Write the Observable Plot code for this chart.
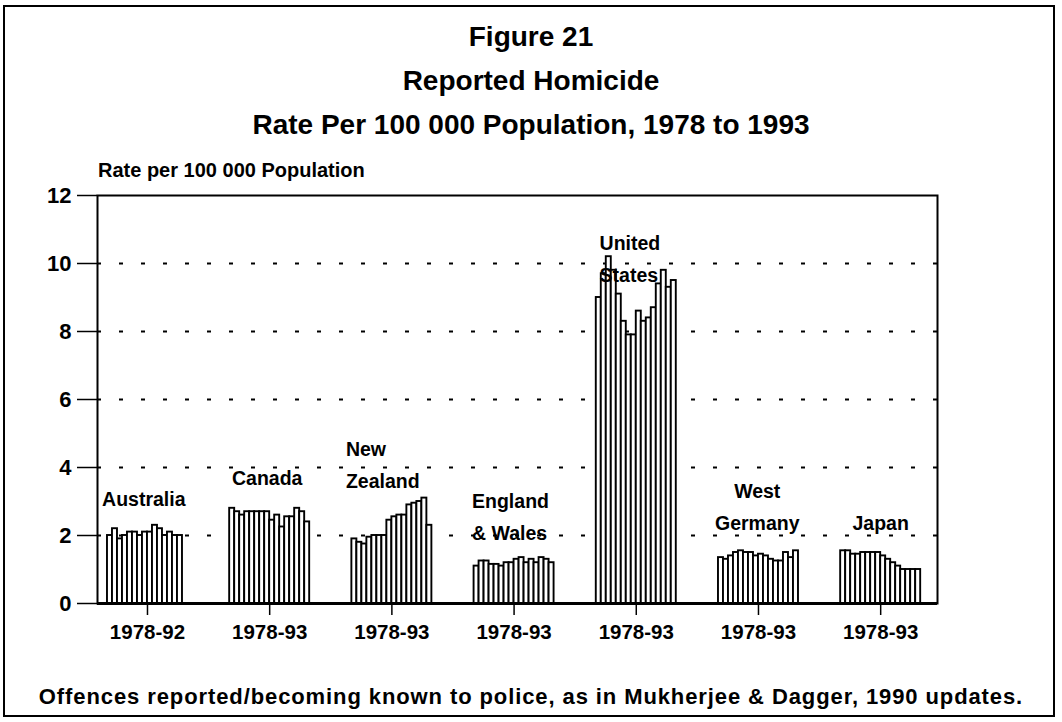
<!DOCTYPE html>
<html><head><meta charset="utf-8">
<script src="https://cdn.jsdelivr.net/npm/d3@7"></script>
<script src="https://cdn.jsdelivr.net/npm/@observablehq/plot@0.6"></script>
<style>
body{margin:0;background:#fff;font-family:"Liberation Sans",Arial,sans-serif;color:#000}
#wrap{position:relative;width:1062px;height:722px;overflow:hidden;background:#fff}
#border{position:absolute;left:3px;top:5px;width:1052px;height:712px;border:2px solid #000;box-sizing:border-box}
#title{position:absolute;top:15px;left:0;width:1062px;text-align:center;font-size:28px;line-height:44px;font-weight:bold}
#ylabel{position:absolute;left:98px;top:159px;font-size:20px;font-weight:bold}
#chart{position:absolute;left:0;top:0}
#caption{position:absolute;top:684px;left:0;width:1062px;text-align:center;font-size:22px;font-weight:bold;letter-spacing:0.9px}
</style></head>
<body><div id="wrap">
<div id="border"></div>
<div id="title">Figure 21<br>Reported Homicide<br>Rate Per 100 000 Population, 1978 to 1993</div>
<div id="chart"></div>
<div id="ylabel">Rate per 100 000 Population</div>
<div id="caption">Offences reported/becoming known to police, as in Mukherjee &amp; Dagger, 1990 updates.</div>
</div>
<script>
const countries = ["Australia","Canada","New Zealand","England & Wales","United States","West Germany","Japan"];
const periods = ["1978-92","1978-93","1978-93","1978-93","1978-93","1978-93","1978-93"];
const australia = [2.0,2.2,1.9,2.0,2.1,2.1,2.0,2.1,2.1,2.3,2.2,2.0,2.1,2.0,2.0];
const canada = [2.8,2.7,2.6,2.7,2.7,2.7,2.7,2.7,2.45,2.6,2.25,2.55,2.55,2.8,2.7,2.4];
const newZealand = [1.9,1.8,1.75,1.95,2.0,2.0,2.0,2.45,2.55,2.6,2.6,2.9,2.95,3.0,3.1,2.3];
const englandWales = [1.1,1.25,1.25,1.15,1.15,1.1,1.2,1.2,1.3,1.35,1.2,1.3,1.2,1.35,1.3,1.2];
const unitedStates = [9.0,9.7,10.2,9.8,9.1,8.3,7.9,7.9,8.6,8.3,8.4,8.7,9.4,9.8,9.3,9.5];
const westGermany = [1.35,1.3,1.4,1.5,1.55,1.5,1.5,1.4,1.45,1.4,1.3,1.25,1.25,1.5,1.35,1.55];
const japan = [1.55,1.55,1.45,1.45,1.5,1.5,1.5,1.5,1.4,1.3,1.2,1.1,1.0,1.0,1.0,1.0];
const startYear = 1978;

// country labels inside the plot
const labelText = ["Australia","Canada","New\nZealand","England\n& Wales","United\nStates","West\nGermany","Japan"];
const labelGroupOffset = [-0.03, -0.02, -0.376, -0.344, -0.30, -0.01, 0.0];
const labelValue = [3.17, 3.8, 4.18, 2.63, 10.23, 2.93, 2.45];
const labelAnchor = ["middle","middle","start","start","start","middle","middle"];

const series = [australia, canada, newZealand, englandWales, unitedStates, westGermany, japan];
const slot = 5 / 122.2; // width of one year slot, in group units
const data = [];
series.forEach((vals, g) => vals.forEach((v, j) => {
  const c = g + (j - 7.5) * slot;
  data.push({country: countries[g], year: startYear + j, value: v, x1: c - slot / 2, x2: c + slot / 2});
}));
const labels = labelText.map((t, i) => ({text: t, x: i + labelGroupOffset[i], y: labelValue[i], anchor: labelAnchor[i]}));

const chart = Plot.plot({
  width: 1062, height: 660,
  marginLeft: 97, marginRight: 125, marginTop: 195, marginBottom: 57,
  x: {type: "linear", domain: [-0.409, 6.465]},
  y: {domain: [0, 12]},
  style: {fontFamily: "'Liberation Sans', Arial, sans-serif", background: "transparent", color: "#000", overflow: "visible"},
  marks: [
    Plot.ruleY([2, 4, 6, 8, 10], {stroke: "#000", strokeWidth: 2, strokeDasharray: "4,18"}),
    Plot.rectY(data, {x1: "x1", x2: "x2", y1: 0, y2: "value", fill: "#fff", stroke: "#000", strokeWidth: 1.9}),
    Plot.frame({stroke: "#000", strokeWidth: 2}),
    Plot.ruleY([0], {stroke: "#000", strokeWidth: 3}),
    Plot.axisY({ticks: [0, 2, 4, 6, 8, 10, 12], tickSize: 20, tickPadding: 6, fontSize: 22, fontWeight: "bold", label: null, strokeWidth: 1.5}),
    Plot.axisX({ticks: d3.range(countries.length), tickFormat: i => periods[i], tickSize: 12, tickPadding: 9, fontSize: 20.5, fontWeight: "bold", label: null, strokeWidth: 1.5}),
    Plot.text(labels.filter(d => d.anchor === "middle"), {x: "x", y: "y", text: "text", textAnchor: "middle", fontSize: 19.5, fontWeight: "bold", lineHeight: 1.65, fill: "#000"}),
    Plot.text(labels.filter(d => d.anchor === "start"), {x: "x", y: "y", text: "text", textAnchor: "start", fontSize: 19.5, fontWeight: "bold", lineHeight: 1.65, fill: "#000"})
  ]
});
document.getElementById("chart").append(chart);
</script>
</body></html>
